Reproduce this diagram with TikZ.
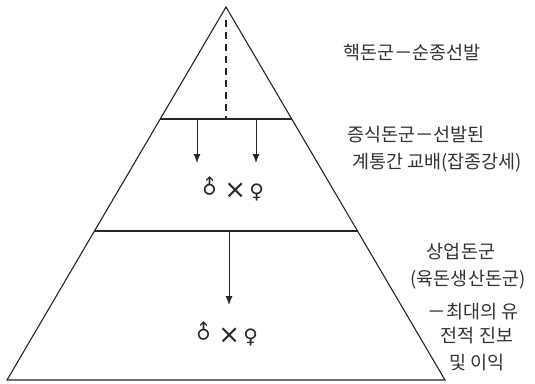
\documentclass[tikz,border=0pt]{standalone}
\usepackage{fontspec}
\newfontfamily\kr{Noto Sans CJK KR}
\newfontfamily\sym{DejaVu Sans}
\usetikzlibrary{arrows.meta,calc}
\begin{document}
\begin{tikzpicture}[x=1pt,y=-1pt,
  edge/.style={line width=1.1pt,black!85},
  arr/.style={line width=1pt,black!85,-{Latex[length=9pt,width=7pt]}},
  lbl/.style={font=\kr\fontsize{18.5}{20}\selectfont,inner sep=0pt,text=black!80},
  symb/.style={font=\sym\fontsize{20}{22}\selectfont,inner sep=0pt,text=black!85}]
\useasboundingbox (0,0) rectangle (535,383);
\coordinate (apex) at (226,7);
\coordinate (bl) at (7,380);
\coordinate (br) at (445,380);
\coordinate (l1) at ($(apex)!0.3003!(bl)$);
\coordinate (r1) at ($(apex)!0.3003!(br)$);
\coordinate (l2) at ($(apex)!0.6005!(bl)$);
\coordinate (r2) at ($(apex)!0.6005!(br)$);
\draw[edge,line join=miter] (apex) -- (bl) -- (br) -- cycle;
\draw[edge] (l1) -- (r1);
\draw[edge] (l2) -- (r2);
\coordinate (dtop) at (226,20);
\coordinate (dbot) at (226,119);
\draw[edge,dash pattern=on 7pt off 5pt] (dtop) -- (dbot);
\coordinate (a1s) at (197,119);
\coordinate (a1e) at (197,163);
\coordinate (a2s) at (256,119);
\coordinate (a2e) at (256,163);
\coordinate (a3s) at (229,231);
\coordinate (a3e) at (229,305);
\draw[arr] (a1s) -- (a1e);
\draw[arr] (a2s) -- (a2e);
\draw[arr] (a3s) -- (a3e);
\node[symb] (s1) at (231,188) {\rotatebox{45}{♂}\,{\fontsize{26}{26}\selectfont×}\,♀};
\node[symb] (s2) at (225,333) {\rotatebox{45}{♂}\,{\fontsize{26}{26}\selectfont×}\,♀};
\node[lbl] (t1) at (412,53) {핵돈군－순종선발};
\node[lbl] (t2) at (416,135) {증식돈군－선발된};
\node[lbl] (t3) at (437,163) {계통간 교배(잡종강세)};
\node[lbl] (b1) at (461,252) {상업돈군};
\node[lbl] (b2) at (468,280) {(육돈생산돈군)};
\node[lbl] (b3) at (473,312) {－최대의 유};
\node[lbl] (b4) at (477,336) {전적 진보};
\node[lbl] (b5) at (477,363) {및 이익};
\end{tikzpicture}
\end{document}
